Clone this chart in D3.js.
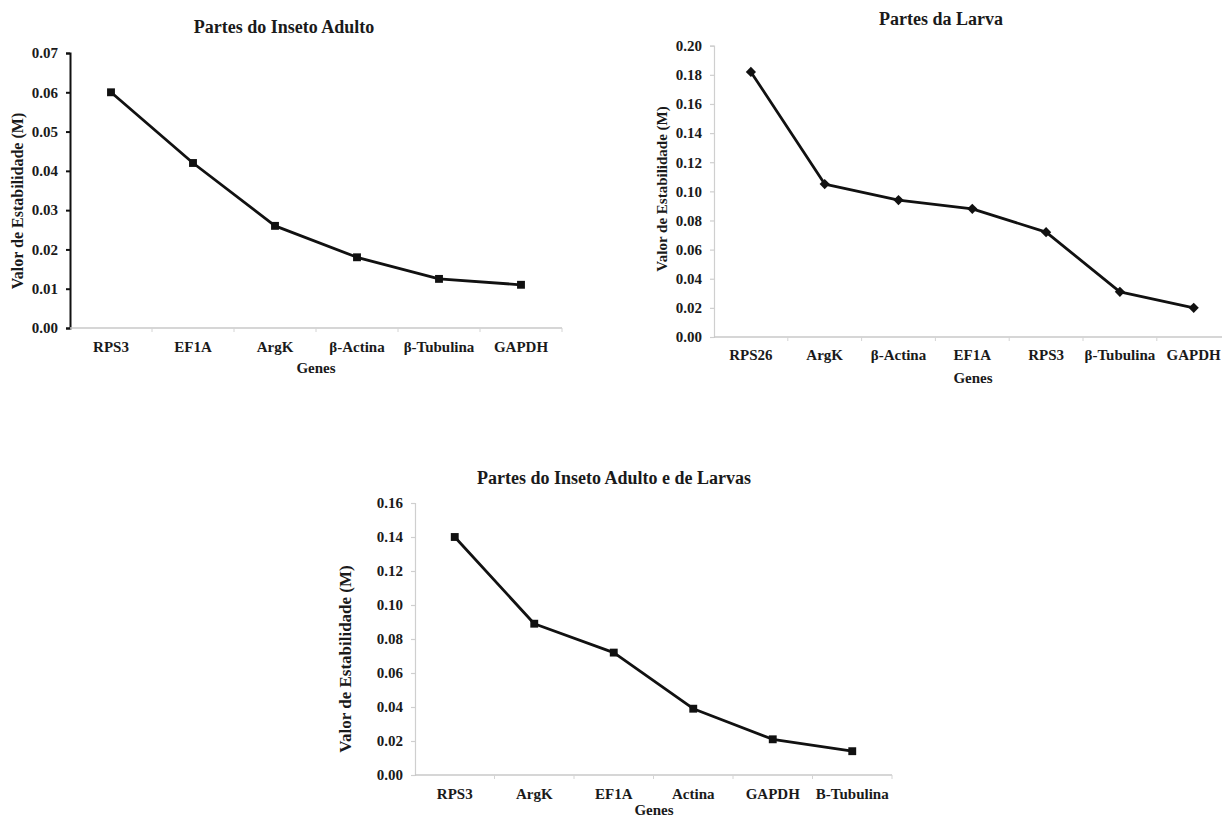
<!DOCTYPE html>
<html>
<head>
<meta charset="utf-8">
<script src="https://cdn.jsdelivr.net/npm/d3@7"></script>
<style>
  html, body { margin: 0; padding: 0; background: #fff; }
  svg { display: block; }
  text { font-family: "Liberation Serif", "Times New Roman", serif; font-weight: bold; fill: #1a1a1a; }
</style>
</head>
<body>
<svg id="fig" width="1222" height="820"></svg>
<script>
// Stability values (M) per reference gene, ordered as plotted
const adultGenes = ["RPS3", "EF1A", "ArgK", "β-Actina", "β-Tubulina", "GAPDH"];
const adultM = [0.060, 0.042, 0.026, 0.018, 0.0125, 0.011];
const adultTicks = [0.00, 0.01, 0.02, 0.03, 0.04, 0.05, 0.06, 0.07];

const larvaGenes = ["RPS26", "ArgK", "β-Actina", "EF1A", "RPS3", "β-Tubulina", "GAPDH"];
const larvaM = [0.182, 0.105, 0.094, 0.088, 0.072, 0.031, 0.020];
const larvaTicks = [0.00, 0.02, 0.04, 0.06, 0.08, 0.10, 0.12, 0.14, 0.16, 0.18, 0.20];

const bothGenes = ["RPS3", "ArgK", "EF1A", "Actina", "GAPDH", "B-Tubulina"];
const bothM = [0.140, 0.089, 0.072, 0.039, 0.021, 0.014];
const bothTicks = [0.00, 0.02, 0.04, 0.06, 0.08, 0.10, 0.12, 0.14, 0.16];

const titles = ["Partes do Inseto Adulto", "Partes da Larva", "Partes do Inseto Adulto e de Larvas"];
const xTitle = "Genes";
const yTitle = "Valor de Estabilidade (M)";

const svg = d3.select("#fig");

// Panel geometry and styling
const panels = [
  { genes: adultGenes, values: adultM, ticks: adultTicks, title: titles[0],
    x0: 70, x1: 562, y0: 328, y1: 53, marker: "square",
    yAxisColor: "#111", yAxisWidth: 2,
    titlePos: [284, 33], xTitlePos: [316, 373], yTitlePos: [17, 201], yTitleSize: 16, xLabelY: 352 },
  { genes: larvaGenes, values: larvaM, ticks: larvaTicks, title: titles[1],
    x0: 714, x1: 714 + 7 * 73.8, y0: 337, y1: 45.7, marker: "diamond",
    yAxisColor: "#cfcfcf", yAxisWidth: 1.2,
    titlePos: [941, 25], xTitlePos: [973, 383], yTitlePos: [662, 189], yTitleSize: 15, xLabelY: 360 },
  { genes: bothGenes, values: bothM, ticks: bothTicks, title: titles[2],
    x0: 415, x1: 892, y0: 775, y1: 503, marker: "square",
    yAxisColor: "#cfcfcf", yAxisWidth: 1.2,
    titlePos: [614, 484], xTitlePos: [654, 815], yTitlePos: [345, 659], yTitleSize: 17, xLabelY: 799 }
];

panels.forEach(p => {
  const g = svg.append("g");
  const x = d3.scaleBand().domain(p.genes).range([p.x0, p.x1]).padding(0);
  const y = d3.scaleLinear().domain([0, d3.max(p.ticks)]).range([p.y0, p.y1]);
  const fmt = d3.format(".2f");

  // Y axis
  const yAxis = g.append("g").attr("transform", `translate(${p.x0},0)`)
    .call(d3.axisLeft(y).tickValues(p.ticks).tickFormat(fmt).tickSize(4).tickPadding(8));
  yAxis.attr("font-family", null).attr("font-size", null);
  yAxis.select(".domain").attr("stroke", p.yAxisColor).attr("stroke-width", p.yAxisWidth);
  yAxis.selectAll(".tick line").attr("stroke", p.yAxisColor).attr("stroke-width", p.yAxisWidth);
  yAxis.selectAll(".tick text").attr("font-size", 15).attr("fill", "#1a1a1a");

  // X axis with ticks at band boundaries
  const xAxis = g.append("g").attr("transform", `translate(0,${p.y0})`);
  xAxis.append("line").attr("x1", p.x0).attr("x2", p.x1).attr("stroke", "#c8c8c8").attr("stroke-width", 1.5);
  xAxis.selectAll("line.bt").data(p.genes)
    .join("line").attr("class", "bt")
    .attr("x1", d => x(d) + x.bandwidth())
    .attr("x2", d => x(d) + x.bandwidth())
    .attr("y1", 0).attr("y2", 4).attr("stroke", "#d4d4d4").attr("stroke-width", 1);
  g.selectAll("text.xl").data(p.genes).join("text").attr("class", "xl")
    .attr("x", d => x(d) + x.bandwidth() / 2).attr("y", p.xLabelY)
    .attr("text-anchor", "middle").attr("font-size", 15).text(d => d);

  // Line and markers
  const pts = p.genes.map((d, i) => [x(d) + x.bandwidth() / 2, y(p.values[i])]);
  g.append("path").datum(pts).attr("d", d3.line())
    .attr("fill", "none").attr("stroke", "#111").attr("stroke-width", 2.8).attr("stroke-linejoin", "round");
  const sym = p.marker === "diamond"
    ? d3.symbol().type(d3.symbolSquare).size(52)
    : d3.symbol().type(d3.symbolSquare).size(62);
  g.selectAll("path.mk").data(pts).join("path").attr("class", "mk")
    .attr("transform", d => `translate(${d[0]},${d[1]})` + (p.marker === "diamond" ? " rotate(45)" : ""))
    .attr("d", sym).attr("fill", "#111");

  // Titles
  g.append("text").attr("x", p.titlePos[0]).attr("y", p.titlePos[1])
    .attr("text-anchor", "middle").attr("font-size", 18).text(p.title);
  g.append("text").attr("x", p.xTitlePos[0]).attr("y", p.xTitlePos[1])
    .attr("text-anchor", "middle").attr("font-size", 15).text(xTitle);
  g.append("text").attr("transform", `translate(${p.yTitlePos[0]},${p.yTitlePos[1]}) rotate(-90)`)
    .attr("text-anchor", "middle").attr("dy", "0.35em").attr("font-size", p.yTitleSize).text(yTitle);
});
</script>
</body>
</html>
